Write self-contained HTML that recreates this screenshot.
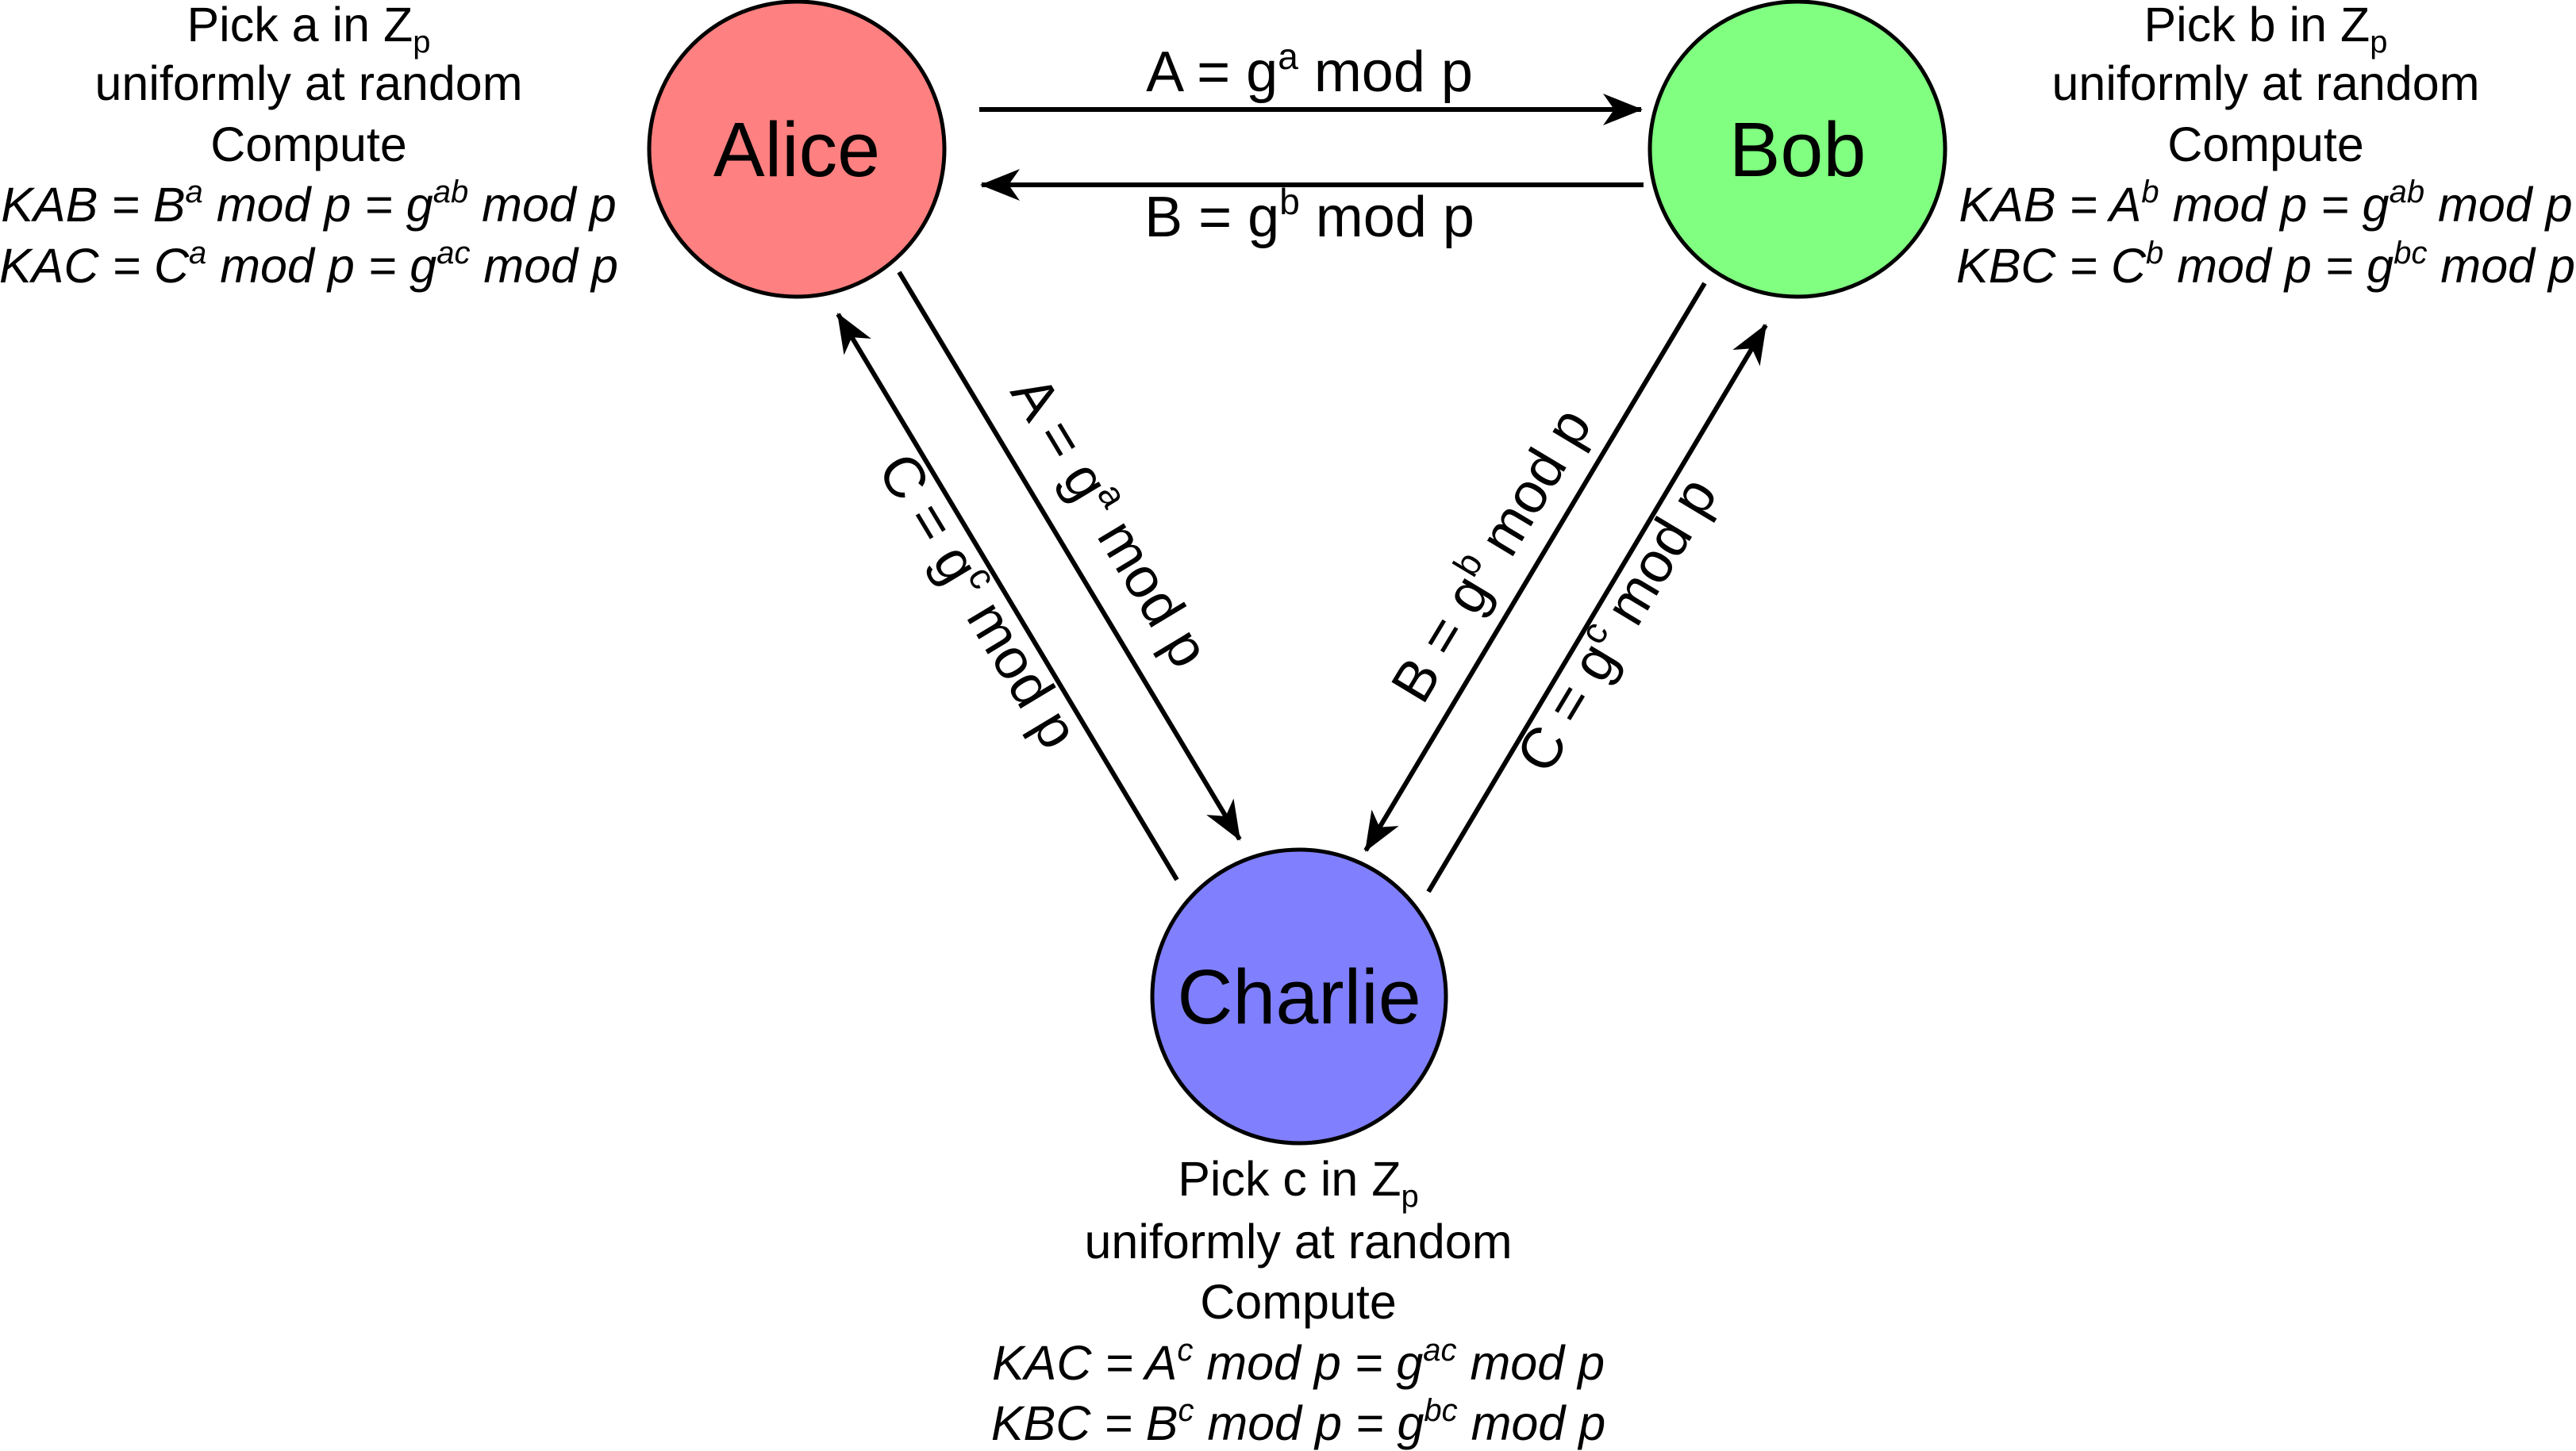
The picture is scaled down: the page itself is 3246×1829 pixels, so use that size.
<!DOCTYPE html>
<html><head><meta charset="utf-8"><style>
html,body{margin:0;padding:0;background:#fff;}
svg{display:block;}
text{font-family:"Liberation Sans",sans-serif;fill:#000;}
</style></head><body>
<svg width="3246" height="1829" viewBox="0 0 3246 1829" xmlns="http://www.w3.org/2000/svg">
<defs>
<marker id="ah" viewBox="0 0 50 40" refX="48" refY="20" markerWidth="50" markerHeight="40" markerUnits="userSpaceOnUse" orient="auto">
<path d="M0,0 L50,20 L0,40 L14,20 Z" fill="#000"/>
</marker>
</defs>
<g stroke="#000" stroke-width="5">
<circle cx="1004" cy="188" r="186" fill="#ff8080"/>
<circle cx="2265" cy="188" r="186" fill="#80ff80"/>
<circle cx="1637" cy="1256" r="185" fill="#8080ff"/>
</g>
<g stroke="#000" stroke-width="6" fill="none">
<line x1="1234" y1="138" x2="2068" y2="138" marker-end="url(#ah)"/>
<line x1="2071" y1="233" x2="1237" y2="233" marker-end="url(#ah)"/>
<line x1="1133" y1="343" x2="1562" y2="1058" marker-end="url(#ah)"/>
<line x1="1483" y1="1109" x2="1056" y2="396" marker-end="url(#ah)"/>
<line x1="2148" y1="357" x2="1721" y2="1072" marker-end="url(#ah)"/>
<line x1="1800" y1="1124" x2="2225" y2="410" marker-end="url(#ah)"/>
</g>
<g font-size="97" text-anchor="middle">
<text x="1004" y="222">Alice</text>
<text x="2265" y="222">Bob</text>
<text x="1637" y="1290">Charlie</text>
</g>
<g font-size="72" text-anchor="middle">
<text x="1650" y="115">A = g<tspan font-size="46" dy="-28">a</tspan><tspan dy="28"> mod p</tspan></text>
<text x="1650" y="298">B = g<tspan font-size="46" dy="-28">b</tspan><tspan dy="28"> mod p</tspan></text>
<text transform="translate(1378,670) rotate(59)">A = g<tspan font-size="46" dy="-28">a</tspan><tspan dy="28"> mod p</tspan></text>
<text transform="translate(1212,770) rotate(59)">C = g<tspan font-size="46" dy="-28">c</tspan><tspan dy="28"> mod p</tspan></text>
<text transform="translate(1900,712) rotate(-59)">B = g<tspan font-size="46" dy="-28">b</tspan><tspan dy="28"> mod p</tspan></text>
<text transform="translate(2058,800) rotate(-59)">C = g<tspan font-size="46" dy="-28">c</tspan><tspan dy="28"> mod p</tspan></text>
</g>
<g font-size="61" text-anchor="middle">
<text x="389" y="52">Pick a in Z<tspan font-size="40" dy="14">p</tspan></text>
<text x="389" y="126">uniformly at random</text>
<text x="389" y="203">Compute</text>
<text x="389" y="279" font-style="italic">KAB = B<tspan font-size="40" dy="-24">a</tspan><tspan dy="24"> mod p = g</tspan><tspan font-size="40" dy="-24">ab</tspan><tspan dy="24"> mod p</tspan></text>
<text x="389" y="356" font-style="italic">KAC = C<tspan font-size="40" dy="-24">a</tspan><tspan dy="24"> mod p = g</tspan><tspan font-size="40" dy="-24">ac</tspan><tspan dy="24"> mod p</tspan></text>

<text x="2855" y="52">Pick b in Z<tspan font-size="40" dy="14">p</tspan></text>
<text x="2855" y="126">uniformly at random</text>
<text x="2855" y="203">Compute</text>
<text x="2855" y="279" font-style="italic">KAB = A<tspan font-size="40" dy="-24">b</tspan><tspan dy="24"> mod p = g</tspan><tspan font-size="40" dy="-24">ab</tspan><tspan dy="24"> mod p</tspan></text>
<text x="2855" y="356" font-style="italic">KBC = C<tspan font-size="40" dy="-24">b</tspan><tspan dy="24"> mod p = g</tspan><tspan font-size="40" dy="-24">bc</tspan><tspan dy="24"> mod p</tspan></text>

<text x="1636" y="1507">Pick c in Z<tspan font-size="40" dy="14">p</tspan></text>
<text x="1636" y="1586">uniformly at random</text>
<text x="1636" y="1662">Compute</text>
<text x="1636" y="1739" font-style="italic">KAC = A<tspan font-size="40" dy="-24">c</tspan><tspan dy="24"> mod p = g</tspan><tspan font-size="40" dy="-24">ac</tspan><tspan dy="24"> mod p</tspan></text>
<text x="1636" y="1815" font-style="italic">KBC = B<tspan font-size="40" dy="-24">c</tspan><tspan dy="24"> mod p = g</tspan><tspan font-size="40" dy="-24">bc</tspan><tspan dy="24"> mod p</tspan></text>
</g>
</svg>
</body></html>
